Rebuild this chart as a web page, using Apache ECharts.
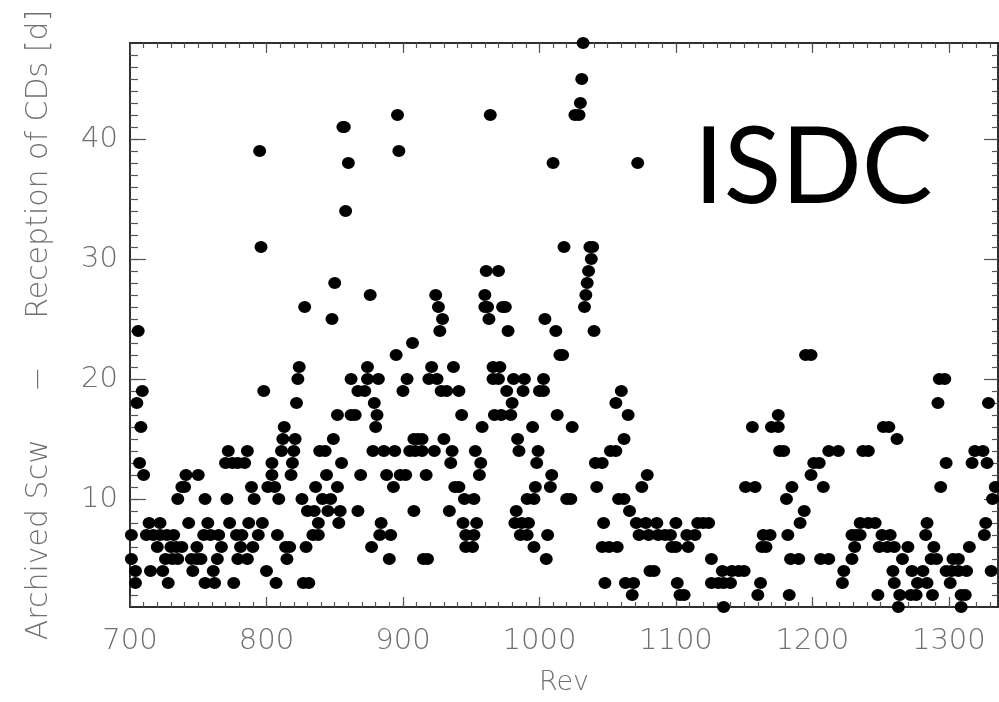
<!DOCTYPE html>
<html>
<head>
<meta charset="utf-8">
<script src="https://cdn.jsdelivr.net/npm/echarts@6/dist/echarts.min.js"></script>
<style>
  html, body { margin: 0; background: #fff; }
  #chart { width: 999px; height: 702px; }
</style>
</head>
<body>
<div id="chart"></div>
<script>
// Revs at which each delay (days) was seen
const d48 = [1032];
const d45 = [1031];
const d43 = [1030];
const d42 = [896, 964, 1026, 1029];
const d41 = [856, 857];
const d39 = [795, 897];
const d38 = [860, 1010, 1072];
const d34 = [858];
const d31 = [796, 1018, 1037, 1039];
const d30 = [1038];
const d29 = [961, 970, 1036];
const d28 = [850, 1035];
const d27 = [876, 924, 960, 1034];
const d26 = [828, 926, 960, 962, 973, 975, 1033];
const d25 = [848, 929, 963, 1004];
const d24 = [706, 927, 977, 1012, 1040];
const d23 = [907];
const d22 = [895, 1015, 1017, 1195, 1199];
const d21 = [824, 874, 921, 937, 966, 971];
const d20 = [823, 862, 874, 882, 903, 919, 925, 966, 970, 981, 989, 1003, 1293, 1297];
const d19 = [709, 798, 867, 872, 900, 928, 932, 941, 976, 988, 1000, 1003, 1060];
const d18 = [705, 822, 879, 980, 1056, 1292, 1329];
const d17 = [852, 862, 865, 881, 943, 967, 972, 979, 1013, 1065, 1175];
const d16 = [708, 813, 880, 958, 995, 1024, 1156, 1170, 1175, 1252, 1256];
const d15 = [812, 821, 849, 908, 911, 914, 930, 984, 1062, 1262];
const d14 = [772, 786, 811, 820, 839, 843, 878, 886, 894, 905, 909, 914, 923, 936, 953, 985, 999,
             1052, 1056, 1176, 1179, 1212, 1219, 1237, 1241, 1319, 1325];
const d13 = [707, 770, 775, 779, 784, 804, 819, 855, 935, 957, 998, 1041, 1046, 1201, 1205, 1298, 1317, 1328];
const d12 = [710, 741, 750, 804, 818, 844, 869, 888, 898, 902, 917, 956, 1009, 1079, 1199];
const d11 = [738, 740, 789, 801, 806, 836, 852, 893, 938, 941, 997, 1008, 1042, 1075, 1151, 1158,
             1185, 1208, 1294, 1334];
const d10 = [735, 755, 771, 791, 809, 826, 841, 847, 945, 952, 991, 996, 1020, 1023, 1058, 1062, 1181, 1332];
const d9 = [830, 835, 845, 854, 867, 908, 934, 983, 1066, 1194];
const d8 = [714, 722, 743, 757, 773, 787, 797, 838, 853, 884, 944, 954, 982, 987, 992, 1047, 1071, 1078,
            1086, 1100, 1116, 1120, 1124, 1191, 1235, 1241, 1246, 1284, 1327];
const d7 = [701, 712, 717, 722, 727, 732, 754, 759, 765, 778, 782, 794, 808, 834, 838, 883, 891, 946, 952,
            986, 991, 1006, 1073, 1080, 1087, 1092, 1096, 1108, 1114, 1164, 1169, 1182, 1229, 1232, 1235,
            1251, 1257, 1283, 1326];
const d6 = [720, 730, 734, 738, 749, 767, 781, 790, 814, 817, 829, 877, 946, 951, 996, 1046, 1051, 1057,
            1097, 1100, 1109, 1163, 1166, 1231, 1249, 1255, 1260, 1270, 1289, 1315];
const d5 = [701, 726, 731, 735, 745, 749, 752, 764, 779, 786, 815, 890, 915, 918, 1005, 1126, 1184, 1190,
            1206, 1212, 1229, 1266, 1287, 1291, 1303, 1307];
const d4 = [704, 715, 724, 746, 761, 800, 1081, 1084, 1134, 1141, 1146, 1150, 1223, 1259, 1273, 1281,
            1298, 1302, 1307, 1313, 1331];
const d3 = [704, 728, 755, 762, 776, 807, 827, 831, 1048, 1063, 1069, 1101, 1126, 1131, 1135, 1140, 1162,
            1222, 1260, 1277, 1284, 1301];
const d2 = [1068, 1103, 1106, 1160, 1183, 1248, 1264, 1272, 1276, 1288, 1309, 1312];
const d1 = [1135, 1263, 1309];

const delayLevels = [48, 45, 43, 42, 41, 39, 38, 34, 31, 30, 29, 28, 27, 26, 25, 24, 23, 22, 21, 20,
                     19, 18, 17, 16, 15, 14, 13, 12, 11, 10, 9, 8, 7, 6, 5, 4, 3, 2, 1];
const delayRevs = [d48, d45, d43, d42, d41, d39, d38, d34, d31, d30, d29, d28, d27, d26, d25, d24, d23,
                   d22, d21, d20, d19, d18, d17, d16, d15, d14, d13, d12, d11, d10, d9, d8, d7, d6, d5,
                   d4, d3, d2, d1];

const xMajor = [700, 800, 900, 1000, 1100, 1200, 1300];
const yMajor = [10, 20, 30, 40];
const xMinor = [];
for (let v = 710; v < 1336; v += 10) xMinor.push(v);
const yMinor = [];
for (let v = 2; v < 48; v++) yMinor.push(v);

const points = [];
delayLevels.forEach((d, i) => delayRevs[i].forEach(r => points.push([r, d])));

const FONT = '"DejaVu Sans"';
const GREY = '#707070';

function xAx(pos, ticks, len, withLabels) {
  return {
    type: 'value', position: pos, min: 700, max: 1336,
    splitLine: { show: false },
    axisLine: { show: true, onZero: false, lineStyle: { color: '#222', width: 1.5 } },
    axisTick: { show: true, inside: true, length: len, customValues: ticks,
                lineStyle: { color: '#555', width: 1.2 } },
    axisLabel: withLabels
      ? { customValues: xMajor, formatter: v => String(v), color: GREY, fontFamily: FONT,
          fontWeight: 200, fontSize: 29, margin: 20 }
      : { show: false },
    name: withLabels ? 'Rev' : '',
    nameLocation: 'middle', nameGap: 62,
    nameTextStyle: { color: GREY, fontFamily: FONT, fontWeight: 200, fontSize: 27 }
  };
}

function yAx(pos, ticks, len, withLabels) {
  return {
    type: 'value', position: pos, min: 1, max: 48,
    splitLine: { show: false },
    axisLine: { show: true, onZero: false, lineStyle: { color: '#222', width: 1.5 } },
    axisTick: { show: true, inside: true, length: len, customValues: ticks,
                lineStyle: { color: '#555', width: 1.2 } },
    axisLabel: withLabels
      ? { customValues: yMajor, formatter: v => String(v), color: GREY, fontFamily: FONT,
          fontWeight: 200, fontSize: 29, margin: 12 }
      : { show: false },
    name: withLabels ? 'Archived Scw     \u2212     Reception of CDs [d]' : '',
    nameLocation: 'middle', nameGap: 76, nameRotate: 90,
    nameTextStyle: { color: GREY, fontFamily: FONT, fontWeight: 200, fontSize: 30 }
  };
}

const chart = echarts.init(document.getElementById('chart'));
chart.setOption({
  animation: false,
  backgroundColor: '#fff',
  grid: { left: 130, right: 1, top: 43, bottom: 95, outerBoundsMode: 'none' },
  xAxis: [
    xAx('bottom', xMajor, 10, true),
    xAx('bottom', xMinor, 5, false),
    xAx('top', xMajor, 10, false),
    xAx('top', xMinor, 5, false)
  ],
  yAxis: [
    yAx('left', yMajor, 16, true),
    yAx('left', yMinor, 8, false),
    yAx('right', yMajor, 14, false),
    yAx('right', yMinor, 6, false)
  ],
  graphic: [{
    type: 'text', left: 694, top: 116,
    style: { text: 'ISDC', fill: '#000', font: '400 106px Lato' }
  }],
  series: [{
    type: 'scatter',
    xAxisIndex: 0, yAxisIndex: 0,
    symbol: 'circle', symbolSize: [13, 12],
    itemStyle: { color: '#000', opacity: 1 },
    data: points
  }]
});
</script>
</body>
</html>
